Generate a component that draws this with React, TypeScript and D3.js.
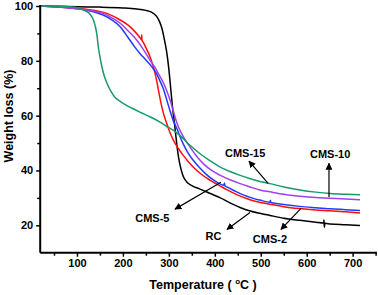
import React, { useEffect, useRef } from 'react';
import * as d3 from 'd3';

const W = 378;
const H = 295;

const xDomain: [number, number] = [20, 753];
const yDomain: [number, number] = [10, 100];
const xMajorTicks = [100, 200, 300, 400, 500, 600, 700];
const xMinorTicks = [50, 150, 250, 350, 450, 550, 650, 750];
const yMajorTicks = [20, 40, 60, 80, 100];
const yMinorTicks = [30, 50, 70, 90];

const xTitle = 'Temperature ( ';
const xTitleSup = 'o';
const xTitleEnd = 'C )';
const yTitle = 'Weight loss (%)';

const rcData: [number, number][] = [
  [20, 100], [60, 99.9], [100, 99.7], [150, 99.6], [200, 99.3], [230, 98.9], [250, 98.4],
  [262, 97.8], [273, 96.3], [280, 94.2], [285, 91.8], [290, 88], [295, 83.5], [300, 77],
  [304, 70], [308, 63], [313, 56], [317, 50], [321, 45], [325, 41.5], [331, 38], [339, 35.8],
  [350, 34.5], [368, 33.2], [390, 31.6], [411, 30.1], [433, 28.2], [455, 26.5], [477, 25.2],
  [500, 24.3], [520, 23.6], [550, 22.6], [585, 21.8], [620, 21.1], [637, 20.8], [637.5, 21.9],
  [638.5, 19.3], [639.5, 20.7], [651, 20.5], [685, 20.2], [716, 19.9],
];

const cms2Data: [number, number][] = [
  [20, 100], [60, 99.6], [85, 99.3], [120, 98.8], [165, 97.3], [194, 94.9], [210, 93.2],
  [223, 91.2], [233, 89.3], [238, 88.2], [240.5, 87.7], [241, 89.5], [241.5, 87.5], [244, 86.8],
  [250, 84.8], [259, 81.5], [265, 78.5], [270, 75.4], [274, 72.3], [277, 69.6], [283, 64.5],
  [288, 61], [295, 57.3], [302, 54], [310, 51], [320, 48.2], [331, 45.6], [342, 43.3],
  [353, 41.3], [370, 38.7], [390, 36.4], [410, 34.5], [426, 33], [448, 31.2], [469, 29.8],
  [490, 28.7], [520, 27.7], [550, 26.8], [585, 26.1], [620, 25.6], [651, 25.3], [685, 24.9],
  [716, 24.5],
];

const cms5Data: [number, number][] = [
  [20, 100], [60, 99.6], [85, 99.3], [120, 98.5], [157, 96.7], [175, 95], [194, 92.4],
  [205, 90], [215, 87.6], [226, 85], [237, 82.7], [250, 80.3], [263, 77.8], [273, 75.4],
  [281, 72.5], [288, 69.8], [295, 66], [303, 61.5], [310, 58], [317, 55.5], [324, 52.5],
  [331, 49.8], [342, 46.3], [353, 43.7], [367, 41], [382, 38.5], [400, 36.2], [420, 34.6],
  [421, 35.4], [422, 34.4], [426, 34.0], [445, 32.4], [462, 31.1], [480, 30], [498, 29.2],
  [520, 28.4], [521, 29.1], [522, 28.3], [550, 27.6], [585, 26.9], [620, 26.4], [651, 26.0],
  [685, 25.7], [716, 25.4],
];

const cms10Data: [number, number][] = [
  [20, 100], [60, 99.6], [85, 99.3], [120, 98.6], [157, 97.3], [180, 95.3], [194, 93.7],
  [212, 90.8], [230, 87.6], [245, 84], [259, 80.3], [270, 77.5], [277, 75.4], [287, 72.3],
  [295, 69.3], [303, 65.5], [310, 61.5], [317, 57.6], [324, 54.7], [335, 51.3], [346, 48.6],
  [360, 45.3], [375, 42.5], [393, 40], [411, 38.3], [433, 36.6], [455, 35.2], [477, 34],
  [498, 32.9], [520, 32.2], [550, 31.3], [585, 30.6], [620, 30.1], [651, 29.9], [685, 29.6],
  [716, 29.3],
];

const cms15Data: [number, number][] = [
  [20, 100], [60, 99.9], [85, 99.7], [100, 99.4], [117, 98.3], [128, 97.1], [136, 94.8],
  [140, 92.5], [143, 90], [147, 84.5], [150, 81.5], [155, 77.3], [160, 74.2], [168, 70.8],
  [176, 68.3], [183, 66.6], [194, 65.2], [205, 64], [220, 62.7], [237, 61.3], [260, 59.5],
  [281, 57.6], [300, 55.6], [313, 54.3], [324, 52.8], [346, 49.2], [368, 46.1], [390, 43.5],
  [411, 41.3], [433, 39.6], [455, 38.2], [477, 37.0], [498, 36.0], [520, 35.2], [550, 34.0],
  [585, 32.9], [620, 32.1], [651, 31.6], [685, 31.3], [716, 31.1],
];

const seriesNames = ['RC', 'CMS-2', 'CMS-5', 'CMS-10', 'CMS-15'];
const seriesData = [rcData, cms2Data, cms5Data, cms10Data, cms15Data];
const seriesColors = ['#000000', '#ff0d0d', '#1f3cff', '#a040f0', '#17996c'];

// annotations: label, label anchor (T, W), arrow from curve point to label point
const annLabels = ['CMS-15', 'CMS-10', 'CMS-5', 'CMS-2', 'RC'];
const annTextPos: [number, number][] = [[466, 44.8], [651, 44.5], [264, 21.3], [520, 13.4], [397, 14.5]];
const annFrom: [number, number][] = [[516, 35.3], [648.5, 30.3], [413.5, 35.7], [587.6, 26.2], [476.6, 24.7]];
const annTo: [number, number][] = [[474.4, 43.4], [648.5, 42.6], [313.4, 25.9], [544, 18.5], [426.5, 18.5]];

export default function App() {
  const ref = useRef<SVGSVGElement | null>(null);

  useEffect(() => {
    const svg = d3.select(ref.current);
    svg.selectAll('*').remove();
    const font = '"Liberation Sans", Arial, sans-serif';

    const x = d3.scaleLinear().domain(xDomain).range([40.2, 377]);
    const y = d3.scaleLinear().domain(yDomain).range([252.7, 6]);

    const defs = svg.append('defs');
    defs.append('marker')
      .attr('id', 'arr')
      .attr('viewBox', '0 0 10 10')
      .attr('refX', 9)
      .attr('refY', 5)
      .attr('markerWidth', 7)
      .attr('markerHeight', 7)
      .attr('markerUnits', 'userSpaceOnUse')
      .attr('orient', 'auto')
      .append('path')
      .attr('d', 'M0,0 L10,5 L0,10 z')
      .attr('fill', '#000');

    // curves
    const line = d3.line<[number, number]>()
      .x((d) => x(d[0]))
      .y((d) => y(d[1]))
      .curve(d3.curveMonotoneX);

    seriesData.forEach((data, i) => {
      svg.append('path')
        .attr('d', line(data) as string)
        .attr('fill', 'none')
        .attr('stroke', seriesColors[i])
        .attr('stroke-width', 1.5)
        .attr('stroke-linejoin', 'round');
    });

    // axes
    const xAxis = svg.append('g').attr('transform', `translate(0,${y(yDomain[0])})`);
    xAxis.call(
      d3.axisBottom(x).tickValues(xMajorTicks).tickSize(4).tickPadding(3).tickFormat(d3.format('d'))
    );
    const xMinor = svg.append('g').attr('transform', `translate(0,${y(yDomain[0])})`);
    xMinor.call(d3.axisBottom(x).tickValues(xMinorTicks).tickSize(3).tickFormat(() => ''));
    xMinor.select('.domain').remove();

    const yAxis = svg.append('g').attr('transform', `translate(${x(xDomain[0])},0)`);
    yAxis.call(
      d3.axisLeft(y).tickValues(yMajorTicks).tickSize(4).tickPadding(3).tickFormat(d3.format('d'))
    );
    const yMinor = svg.append('g').attr('transform', `translate(${x(xDomain[0])},0)`);
    yMinor.call(d3.axisLeft(y).tickValues(yMinorTicks).tickSize(3).tickFormat(() => ''));
    yMinor.select('.domain').remove();

    [xAxis, xMinor, yAxis, yMinor].forEach((g) => {
      g.selectAll('.domain').attr('stroke', '#000').attr('stroke-width', 2);
      g.selectAll('.tick line').attr('stroke', '#000').attr('stroke-width', 1.5);
      g.selectAll('.tick text')
        .attr('fill', '#000')
        .attr('font-family', font)
        .attr('font-weight', 'bold')
        .attr('font-size', 11);
    });
    xAxis.selectAll('.domain').attr('d', `M${x(xDomain[0])},0H${x(xDomain[1])}`);
    yAxis.selectAll('.domain').attr('d', `M0,${y(yDomain[1]) - 1}V${y(yDomain[0])}`);

    // axis titles
    const xt = svg.append('text')
      .attr('x', 203)
      .attr('y', 289)
      .attr('text-anchor', 'middle')
      .attr('font-family', font)
      .attr('font-weight', 'bold')
      .attr('font-size', 12.5)
      .attr('fill', '#000');
    xt.append('tspan').text(xTitle);
    xt.append('tspan').attr('font-size', 8).attr('dy', -5).text(xTitleSup);
    xt.append('tspan').attr('dy', 5).text(xTitleEnd);

    svg.append('text')
      .attr('transform', `translate(13,116) rotate(-90)`)
      .attr('text-anchor', 'middle')
      .attr('font-family', font)
      .attr('font-weight', 'bold')
      .attr('font-size', 12.5)
      .attr('fill', '#000')
      .text(yTitle);

    // annotations
    annLabels.forEach((lab, i) => {
      svg.append('line')
        .attr('x1', x(annFrom[i][0]))
        .attr('y1', y(annFrom[i][1]))
        .attr('x2', x(annTo[i][0]))
        .attr('y2', y(annTo[i][1]))
        .attr('stroke', '#000')
        .attr('stroke-width', 1.2)
        .attr('marker-end', 'url(#arr)');
      svg.append('text')
        .attr('x', x(annTextPos[i][0]))
        .attr('y', y(annTextPos[i][1]))
        .attr('text-anchor', 'middle')
        .attr('font-family', font)
        .attr('font-weight', 'bold')
        .attr('font-size', 11)
        .attr('fill', '#000')
        .text(lab);
    });
  }, []);

  return (
    <svg
      ref={ref}
      width={W}
      height={H}
      style={{ position: 'absolute', left: 0, top: 0, background: '#fff' }}
    />
  );
}
